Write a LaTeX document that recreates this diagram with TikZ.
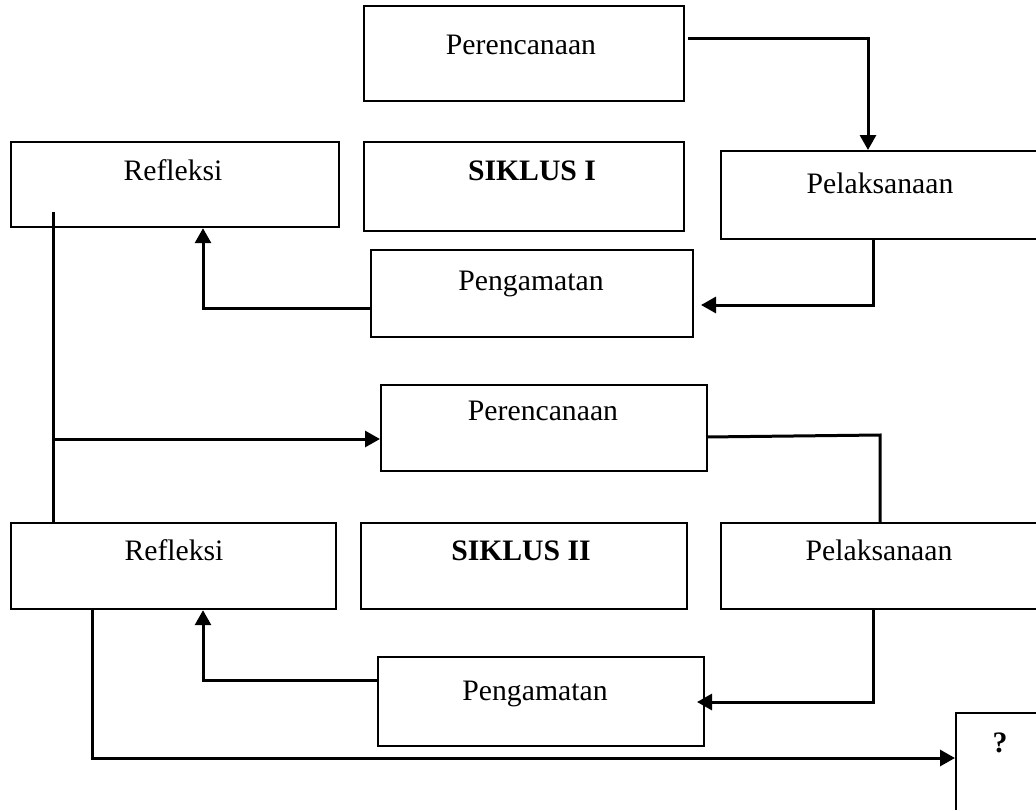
\documentclass[tikz,border=0pt]{standalone}
\usepackage{fontspec}
\setmainfont{Liberation Serif}
\usetikzlibrary{arrows.meta}
\tikzset{
  box/.style={draw, line width=2.2pt, rectangle, inner sep=0pt, anchor=north west},
  lbl/.style={anchor=base, inner sep=0pt, font=\fontsize{29.7}{34}\selectfont},
  conn/.style={line width=3pt},
  arr/.style={conn, -{Triangle[length=15pt,width=16pt]}}
}
\newcommand{\mybox}[5]{%
  \pgfmathsetmacro{\bw}{#4-#2}\pgfmathsetmacro{\bh}{#5-#3}%
  \node[box, minimum width=\bw pt, minimum height=\bh pt] (#1) at (#2,#3) {};}
\begin{document}
\begin{tikzpicture}[x=1pt,y=-1pt]
\useasboundingbox (0,0) rectangle (1036,809);
% boxes
\mybox{pA}{363}{5}{683}{100}
\mybox{rA}{10}{141}{338}{226}
\mybox{sA}{363}{141}{683}{230}
\mybox{lA}{720}{150}{1040}{238}
\mybox{gA}{370}{249}{692}{336}
\mybox{pB}{380}{384}{706}{470}
\mybox{rB}{10}{522}{335}{608}
\mybox{sB}{360}{522}{686}{608}
\mybox{lB}{720}{522}{1040}{608}
\mybox{gB}{377}{656}{703}{745}
\mybox{q}{955}{712}{1040}{812}
% texts
\node[lbl] (tpA) at (521,54) {Perencanaan};
\node[lbl] (trA) at (173,180) {Refleksi};
\node[lbl] (tsA) at (532,180) {\bfseries SIKLUS I};
\node[lbl] (tlA) at (880,193) {Pelaksanaan};
\node[lbl] (tgA) at (531,290) {Pengamatan};
\node[lbl] (tpB) at (543,420) {Perencanaan};
\node[lbl] (trB) at (174,560) {Refleksi};
\node[lbl] (tsB) at (521,560) {\bfseries SIKLUS II};
\node[lbl] (tlB) at (879,560) {Pelaksanaan};
\node[lbl] (tgB) at (535,700) {Pengamatan};
\node[lbl] (tq) at (1000,752) {\bfseries ?};
% coordinates
\coordinate (a1) at (688,38);
\coordinate (a2) at (868,38);
\coordinate (b1) at (873,238);
\coordinate (b2) at (873,305);
\coordinate (c1) at (370,308);
\coordinate (c2) at (203,308);
\coordinate (d1) at (53,212);
\coordinate (d2) at (53,439);
\coordinate (e1) at (706,437);
\coordinate (e2) at (880,435);
\coordinate (f1) at (873,608);
\coordinate (f2) at (873,702);
\coordinate (g1) at (377,680);
\coordinate (g2) at (203,680);
\coordinate (h1) at (92,608);
\coordinate (h2) at (92,758);
% connectors
\draw[arr] (a1) -- (a2) -- (a2 |- lA.north);
\draw[arr] (b1) -- (b2) -- (701,305);
\draw[arr] (c1) -- (c2) -- (c2 |- rA.south);
\draw[conn] (d1) -- (d1 |- rB.north);
\draw[arr] (d2) -- (d2 -| pB.west);
\draw[conn] (e1) -- (e2) -- (e2 |- lB.north);
\draw[arr] (f1) -- (f2) -- (697,702);
\draw[arr] (g1) -- (g2) -- (g2 |- rB.south);
\draw[arr] (h1) -- (h2) -- (h2 -| q.west);
\end{tikzpicture}
\end{document}
